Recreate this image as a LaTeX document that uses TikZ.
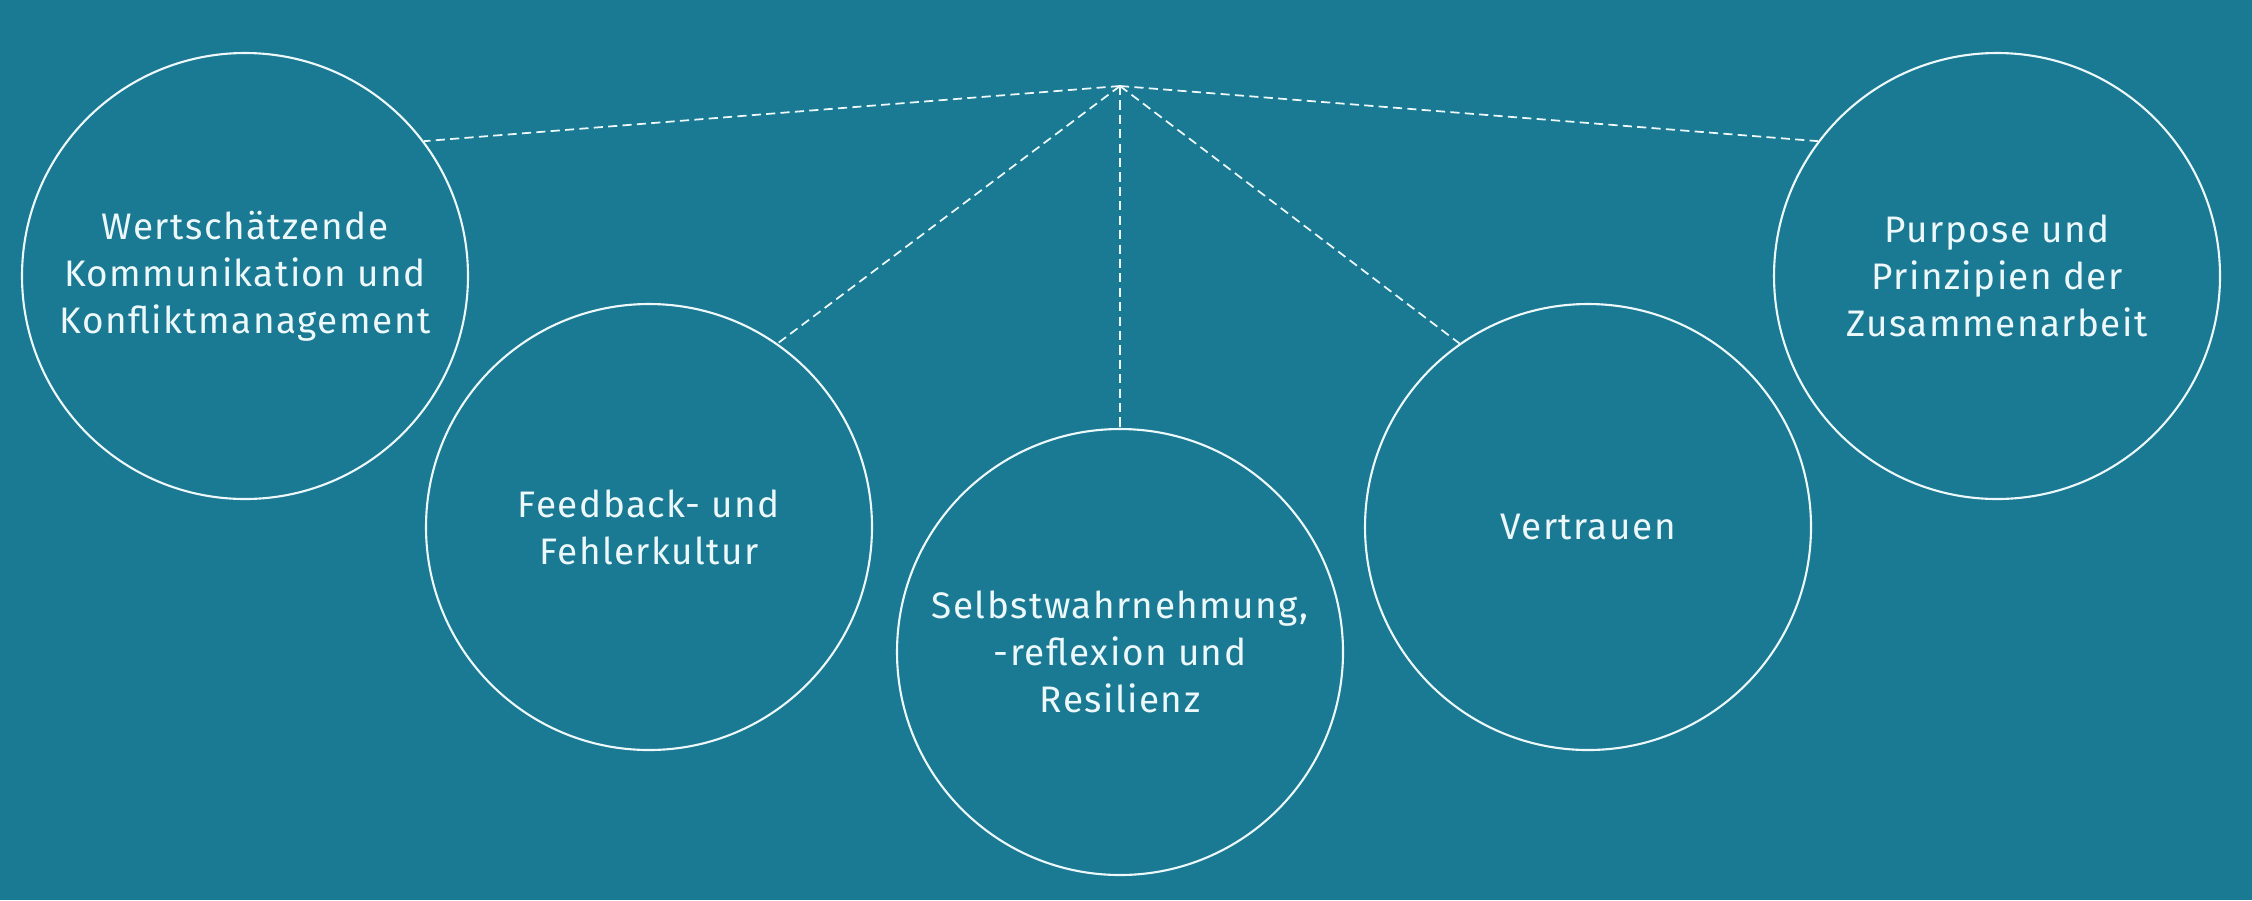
\documentclass[tikz,border=0pt]{standalone}
\usepackage{fontspec}
\setmainfont{Fira Sans}[LetterSpace=4]
\definecolor{bg}{RGB}{26,121,147}
\definecolor{ink}{RGB}{236,248,250}

\tikzset{
  bubble/.style={circle, draw=ink, line width=0.6pt, minimum size=4.46cm, inner sep=0pt,
    text=ink, align=center, font=\fontsize{10.5}{13.4}\selectfont},
  link/.style={draw=ink, line width=0.5pt, dash pattern=on 2.6pt off 1.5pt}
}

\begin{document}
\begin{tikzpicture}
\fill[bg] (0,0) rectangle (22.52,-9.00);
\useasboundingbox (0,0) rectangle (22.52,-9.00);
\coordinate (top) at (11.20,-0.86);
\node[bubble] (wert) at (2.45,-2.76) {Wertschätzende\\Kommunikation und\\Konfliktmanagement};
\node[bubble] (feed) at (6.49,-5.27) {Feedback- und\\Fehlerkultur};
\node[bubble] (selbst) at (11.20,-6.52) {Selbstwahrnehmung,\\-reflexion und\\Resilienz};
\node[bubble] (vert) at (15.88,-5.27) {Vertrauen};
\node[bubble] (purp) at (19.97,-2.76) {Purpose und\\Prinzipien der\\Zusammenarbeit};
\draw[link] (top) -- (wert.37);
\draw[link] (top) -- (feed.55);
\draw[link] (top) -- (selbst.90);
\draw[link] (top) -- (vert.125);
\draw[link] (top) -- (purp.143);
\end{tikzpicture}
\end{document}
